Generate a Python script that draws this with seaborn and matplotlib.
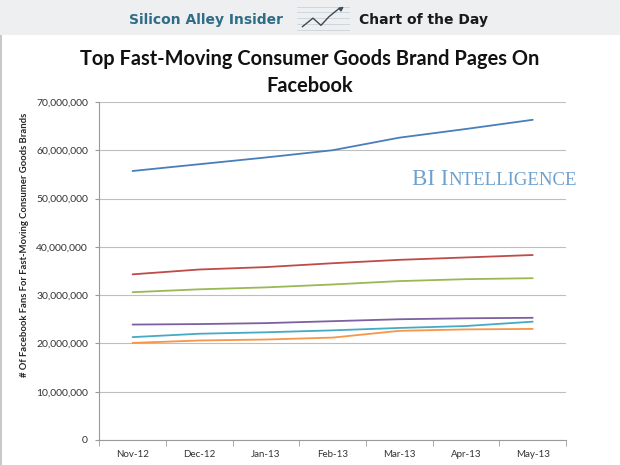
import pandas as pd
import matplotlib.pyplot as plt
import seaborn as sns
from matplotlib.patches import Rectangle
from matplotlib.ticker import FuncFormatter, FixedLocator

# values (fans per month)
months = ["Nov-12", "Dec-12", "Jan-13", "Feb-13", "Mar-13", "Apr-13", "May-13"]
brand_blue = [55.7, 57.1, 58.5, 60.0, 62.6, 64.4, 66.3]
brand_red = [34.3, 35.3, 35.8, 36.6, 37.3, 37.8, 38.3]
brand_green = [30.6, 31.2, 31.6, 32.2, 32.9, 33.3, 33.5]
brand_purple = [23.9, 24.0, 24.2, 24.6, 25.0, 25.2, 25.3]
brand_teal = [21.3, 22.0, 22.3, 22.7, 23.2, 23.6, 24.5]
brand_orange = [20.1, 20.6, 20.8, 21.2, 22.6, 22.9, 23.0]

series = {"Blue": brand_blue, "Red": brand_red, "Green": brand_green,
          "Purple": brand_purple, "Teal": brand_teal, "Orange": brand_orange}
colors = ["#4A7EBB", "#BE4B48", "#98B954", "#7D60A0", "#46AAC5", "#F79646"]

rows = []
for name, vals in series.items():
    for m, v in zip(months, vals):
        rows.append({"month": m, "fans": v * 1e6, "brand": name})
df = pd.DataFrame(rows)

sns.set_style("white")
plt.rcParams["font.family"] = ["Lato", "DejaVu Sans"]

fig = plt.figure(figsize=(6.2, 4.65), dpi=100)
ax = fig.add_axes([0.160, 0.0538, 0.753, 0.727])

sns.lineplot(data=df, x="month", y="fans", hue="brand", palette=colors,
             linewidth=1.3, legend=False, ax=ax, sort=False)

ax.set_xlim(-0.5, 6.5)
ax.set_ylim(0, 70e6)
ax.set_yticks(range(0, 70000001, 10000000))
ax.yaxis.set_major_formatter(FuncFormatter(lambda v, p: f"{int(v):,}"))
ax.yaxis.grid(True, color="#BEBEBE", linewidth=0.8)
ax.set_axisbelow(True)
ax.tick_params(axis="y", labelsize=7.5, labelcolor="#333333", length=3,
               color="#9A9A9A", left=True, direction="out", pad=5)
ax.tick_params(axis="x", which="major", labelsize=7, labelcolor="#333333", length=0, pad=7)
ax.xaxis.set_minor_locator(FixedLocator([i - 0.5 for i in range(8)]))
ax.tick_params(axis="x", which="minor", length=4, color="#9A9A9A", bottom=True, direction="out")
for s in ["top", "right"]:
    ax.spines[s].set_visible(False)
for s in ["left", "bottom"]:
    ax.spines[s].set_color("#9A9A9A")
    ax.spines[s].set_linewidth(0.8)
ax.set_xlabel("")
ax.set_ylabel("# Of Facebook Fans For Fast-Moving Consumer Goods Brands",
              fontsize=6.8, fontweight="bold")
ax.yaxis.set_label_coords(-0.15, 0.577)

# header band and thin frame on the left
fig.patches.append(Rectangle((0, 0.925), 1, 0.075, transform=fig.transFigure,
                             facecolor="#EEEFF1", edgecolor="none", zorder=-5))
fig.patches.append(Rectangle((0.0, 0.0), 0.003, 0.925, transform=fig.transFigure,
                             facecolor="#C8C8C8", edgecolor="none", zorder=-5))
hdr_font = ["Liberation Sans Narrow", "DejaVu Sans"]
fig.text(0.456, 0.957, "Silicon Alley Insider", ha="right", va="center",
         fontsize=10, fontweight="bold", color="#2F6C86", family=hdr_font)
fig.text(0.579, 0.957, "Chart of the Day", ha="left", va="center",
         fontsize=10, fontweight="bold", color="#1A1A1A", family=hdr_font)
icon = fig.add_axes([0.479, 0.930, 0.086, 0.062])
icon.set_xlim(0, 10)
icon.set_ylim(0, 10)
icon.axis("off")
for yy in range(1, 10, 2):
    icon.axhline(yy, color="#C9D3DA", linewidth=0.6)
icon.plot([1, 3, 4.5, 6, 8], [2, 5, 2.5, 5.5, 8.5], color="#3B4A55", linewidth=1)
icon.annotate("", xy=(9.2, 9.6), xytext=(7.8, 7.6),
              arrowprops=dict(arrowstyle="-|>", color="#3B4A55", lw=1, mutation_scale=6))

fig.text(0.5, 0.873, "Top Fast-Moving Consumer Goods Brand Pages On",
         ha="center", va="center", fontsize=14.4, fontweight="bold", color="#111111")
fig.text(0.5, 0.814, "Facebook", ha="center", va="center",
         fontsize=14.4, fontweight="bold", color="#111111")

# watermark in small caps
serif = ["Liberation Serif", "DejaVu Serif"]
t1 = fig.text(0.665, 0.602, "BI I", ha="left", va="baseline", fontsize=16.5,
              color="#6FA1CF", family=serif)
fig.canvas.draw()
bb = t1.get_window_extent()
fig.text(bb.x1 / fig.bbox.width, 0.602, "NTELLIGENCE", ha="left", va="baseline",
         fontsize=13.5, color="#6FA1CF", family=serif)

fig.savefig("out.png", dpi=100)
